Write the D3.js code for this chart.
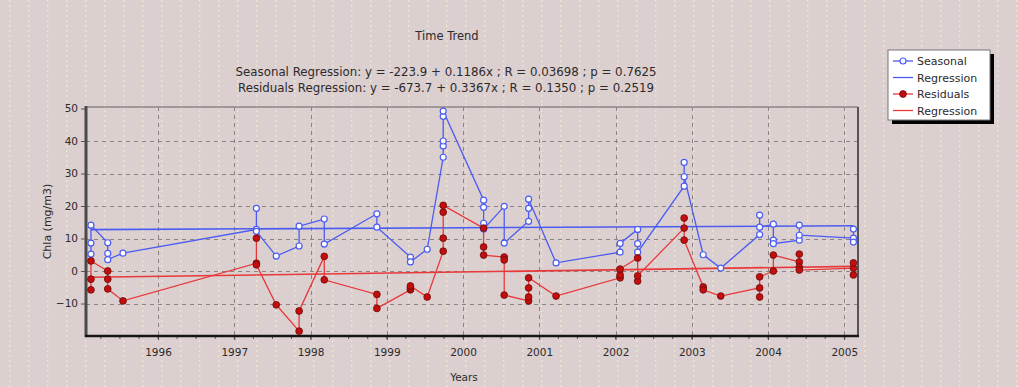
<!DOCTYPE html>
<html>
<head>
<meta charset="utf-8">
<script src="https://cdn.jsdelivr.net/npm/d3@7"></script>
<style>
  body { margin: 0; background: #dccfd0; }
  svg { display: block; font-family: "DejaVu Sans", Arial, sans-serif; }
</style>
</head>
<body>
<div id="chart"></div>
<script>
// sample dates (decimal years) and the values measured on each date
var sampleDates = [1995.12, 1995.34, 1995.54, 1997.29, 1997.55, 1997.85, 1998.18, 1998.87,
  1999.31, 1999.53, 1999.74, 2000.27, 2000.54, 2000.86, 2001.22, 2002.06, 2002.29,
  2002.90, 2003.15, 2003.38, 2003.89, 2004.07, 2004.41, 2005.12];

var seasonalValues = [
  [5.2, 8.6, 14.1], [8.7, 5.4, 3.5], [5.5], [12.8, 19.3, 12.2], [4.6], [7.7, 13.8],
  [16.0, 8.3], [17.6, 13.5], [4.3, 2.8], [6.7], [35.0, 38.5, 40.0, 47.6, 49.2],
  [21.8, 19.6, 14.7, 12.9], [19.9, 8.6], [15.3, 19.3, 22.1], [2.5], [5.8, 8.5],
  [12.8, 8.4, 5.8], [26.1, 33.4, 29.0], [5.0], [0.9], [11.2, 17.2, 13.5],
  [14.4, 9.5, 8.4], [9.5, 14.1, 11.0], [10.1, 12.9, 8.9]
];

var residualValues = [
  [-5.8, -2.5, 3.1], [0.0, -2.5, -5.5], [-9.2], [2.4, 10.1, 1.9], [-10.4], [-18.5, -12.3],
  [4.5, -2.7], [-7.2, -11.5], [-5.8, -5.2, -4.6], [-8.0], [6.1, 10.1, 18.1, 20.2],
  [13.2, 7.4, 4.9], [4.3, 3.4, -7.4], [-9.2, -8.0, -5.2, -2.1], [-7.7], [-2.1, -1.2, 0.6],
  [4.0, -3.1, -1.5], [13.2, 16.3, 9.5], [-4.9, -5.8], [-7.7], [-5.2, -8.0, -1.8],
  [0.0, 4.9], [2.8, 5.2, 1.2, 0.3], [0.9, 2.5, -1.2]
];

// regression: [intercept, slope]
var seasonalFit = [-223.9, 0.1186];
var residualFit = [-673.7, 0.3367];

var xTicks = [1996, 1997, 1998, 1999, 2000, 2001, 2002, 2003, 2004, 2005];
var yTicks = [-10, 0, 10, 20, 30, 40, 50];

var titleText = 'Time Trend';
var subtitleLines = [
  'Seasonal Regression: y = -223.9 + 0.1186x ; R = 0.03698 ; p = 0.7625',
  'Residuals Regression: y = -673.7 + 0.3367x ; R = 0.1350 ; p = 0.2519'
];
var legendLabels = ['Seasonal', 'Regression', 'Residuals', 'Regression'];

(function() {
  var width = 1018, height = 387;
  var pLeft = 86, pRight = 858, pTop = 107, pBottom = 336;
  var blue = '#4b5cf2', red = '#e8393a';
  var ink = '#2c2a2a';

  var svg = d3.select('#chart').append('svg')
    .attr('width', width)
    .attr('height', height);

  // background with the faint dotted texture
  var defs = svg.append('defs');
  var pat = defs.append('pattern')
    .attr('id', 'dots')
    .attr('patternUnits', 'userSpaceOnUse')
    .attr('width', 19).attr('height', 5);
  pat.append('rect').attr('width', 19).attr('height', 5).attr('fill', '#dccfd0');
  pat.append('rect').attr('x', 9).attr('width', 1.4).attr('height', 2).attr('fill', '#e9e6d2');
  svg.append('rect').attr('width', width).attr('height', height).attr('fill', 'url(#dots)');

  var x = d3.scaleLinear().domain([1995.055, 2005.18]).range([pLeft, pRight]);
  var y = d3.scaleLinear().domain([-20, 50]).range([pBottom, 108.5]);

  // grid
  var grid = svg.append('g').attr('stroke', '#8a8484').attr('stroke-width', 1)
    .attr('stroke-dasharray', '4,4');
  grid.selectAll('.hg').data(yTicks.slice(0, -1)).enter().append('line')
    .attr('x1', pLeft).attr('x2', pRight)
    .attr('y1', function(d) { return Math.round(y(d)) + 0.5; })
    .attr('y2', function(d) { return Math.round(y(d)) + 0.5; });
  grid.selectAll('.vg').data(xTicks).enter().append('line')
    .attr('y1', pTop).attr('y2', pBottom)
    .attr('x1', function(d) { return Math.round(x(d)) + 0.5; })
    .attr('x2', function(d) { return Math.round(x(d)) + 0.5; });

  // frame
  svg.append('line').attr('x1', pLeft).attr('x2', pRight).attr('y1', pTop).attr('y2', pTop)
    .attr('stroke', '#8c8686').attr('stroke-width', 1.5);
  svg.append('line').attr('x1', pRight).attr('x2', pRight).attr('y1', pTop).attr('y2', pBottom)
    .attr('stroke', '#555').attr('stroke-width', 2);

  // axes
  var xAxis = d3.axisBottom(x).tickValues(xTicks).tickFormat(d3.format('d')).tickSize(4).tickPadding(9);
  var gx = svg.append('g').attr('transform', 'translate(0,' + pBottom + ')').call(xAxis);
  gx.select('.domain').remove();
  gx.selectAll('line').attr('stroke', '#444');
  gx.selectAll('text').attr('font-size', 10.5).attr('fill', ink)
    .attr('font-family', '"DejaVu Sans", Arial, sans-serif');
  // quarter-year minor ticks
  var minor = d3.range(1995.25, 2005.2, 0.25);
  svg.append('g').selectAll('line').data(minor).enter().append('line')
    .attr('x1', function(d) { return x(d); }).attr('x2', function(d) { return x(d); })
    .attr('y1', pBottom).attr('y2', pBottom + 3)
    .attr('stroke', '#555');

  var yAxis = d3.axisLeft(y).tickValues(yTicks).tickSize(5).tickPadding(3);
  var gy = svg.append('g').attr('transform', 'translate(' + pLeft + ',0)').call(yAxis);
  gy.select('.domain').remove();
  gy.selectAll('line').attr('stroke', '#555');
  gy.selectAll('text').attr('font-size', 10.5).attr('fill', ink)
    .attr('font-family', '"DejaVu Sans", Arial, sans-serif');

  svg.append('line').attr('x1', pLeft).attr('x2', pLeft).attr('y1', pTop - 1).attr('y2', pBottom + 1)
    .attr('stroke', '#4a4a4a').attr('stroke-width', 3);
  svg.append('line').attr('x1', pLeft - 1).attr('x2', pRight + 1).attr('y1', pBottom).attr('y2', pBottom)
    .attr('stroke', '#151515').attr('stroke-width', 2.5);

  // flatten the samples
  function flatten(values) {
    var out = [];
    values.forEach(function(vals, i) {
      vals.forEach(function(v) { out.push({ t: sampleDates[i], v: v }); });
    });
    return out;
  }
  var seasonal = flatten(seasonalValues);
  var residual = flatten(residualValues);

  var line = d3.line()
    .x(function(d) { return x(d.t); })
    .y(function(d) { return y(d.v); });

  var ext = d3.extent(sampleDates);
  function fitLine(fit) {
    return ext.map(function(t) { return { t: t, v: fit[0] + fit[1] * t }; });
  }

  var plot = svg.append('g');

  plot.append('path').datum(fitLine(seasonalFit))
    .attr('d', line).attr('fill', 'none').attr('stroke', blue).attr('stroke-width', 1.6);
  plot.append('path').datum(fitLine(residualFit))
    .attr('d', line).attr('fill', 'none').attr('stroke', red).attr('stroke-width', 1.6);

  plot.append('path').datum(seasonal)
    .attr('d', line).attr('fill', 'none').attr('stroke', blue).attr('stroke-width', 1.3);
  plot.append('path').datum(residual)
    .attr('d', line).attr('fill', 'none').attr('stroke', red).attr('stroke-width', 1.3);

  plot.selectAll('.sm').data(seasonal).enter().append('circle')
    .attr('cx', function(d) { return x(d.t); })
    .attr('cy', function(d) { return y(d.v); })
    .attr('r', 3)
    .attr('fill', '#fff').attr('stroke', blue).attr('stroke-width', 1.2);

  plot.selectAll('.rm').data(residual).enter().append('circle')
    .attr('cx', function(d) { return x(d.t); })
    .attr('cy', function(d) { return y(d.v); })
    .attr('r', 3.4)
    .attr('fill', '#c40d0d').attr('stroke', '#6a0a0a').attr('stroke-width', 0.8);

  // titles
  svg.append('text').attr('x', 447).attr('y', 40).attr('text-anchor', 'middle')
    .attr('font-size', 11.5).attr('fill', ink).text(titleText);
  svg.selectAll('.sub').data(subtitleLines).enter().append('text')
    .attr('x', 446).attr('y', function(d, i) { return 76 + i * 16; })
    .attr('text-anchor', 'middle').attr('font-size', 11.8).attr('fill', ink)
    .text(function(d) { return d; });

  svg.append('text').attr('x', 464).attr('y', 381).attr('text-anchor', 'middle')
    .attr('font-size', 10.5).attr('fill', ink).text('Years');
  svg.append('text')
    .attr('transform', 'translate(51,' + (pTop + pBottom) / 2 + ') rotate(-90)')
    .attr('text-anchor', 'middle').attr('font-size', 11).attr('fill', ink)
    .text('Chla (mg/m3)');

  // legend
  var lg = svg.append('g').attr('transform', 'translate(888,50)');
  lg.append('rect').attr('x', 4).attr('y', 4).attr('width', 102).attr('height', 70).attr('fill', '#000');
  lg.append('rect').attr('width', 102).attr('height', 70).attr('fill', '#fff').attr('stroke', '#777');
  var colors = [blue, blue, red, red];
  legendLabels.forEach(function(lab, i) {
    var yy = 11 + i * 16.5;
    lg.append('line').attr('x1', 5).attr('x2', 25).attr('y1', yy).attr('y2', yy)
      .attr('stroke', colors[i]).attr('stroke-width', 1.3);
    if (i === 0) {
      lg.append('circle').attr('cx', 15).attr('cy', yy).attr('r', 3)
        .attr('fill', '#fff').attr('stroke', blue).attr('stroke-width', 1.2);
    }
    if (i === 2) {
      lg.append('circle').attr('cx', 15).attr('cy', yy).attr('r', 3.4)
        .attr('fill', '#c40d0d').attr('stroke', '#6a0a0a').attr('stroke-width', 0.8);
    }
    lg.append('text').attr('x', 29).attr('y', yy + 4).attr('font-size', 11)
      .attr('fill', ink).text(lab);
  });
})();
</script>
</body>
</html>
